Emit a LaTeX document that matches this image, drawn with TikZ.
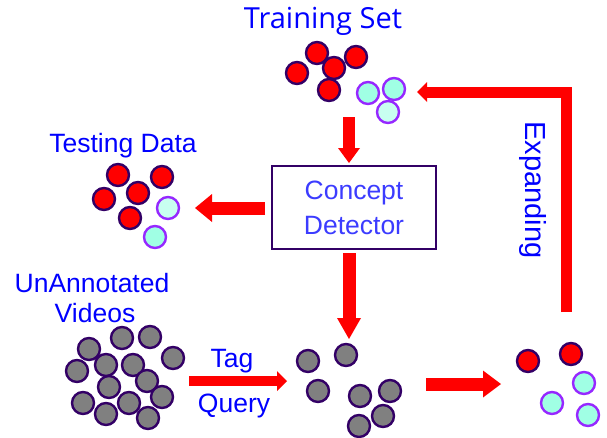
\documentclass[tikz,border=0pt]{standalone}
\usepackage{fontspec}
\setmainfont{Liberation Sans}
\newfontfamily\tsfont{Open Sans}
\usetikzlibrary{arrows.meta}
\definecolor{edge}{RGB}{51,0,102}
\definecolor{vio}{RGB}{150,40,255}
\definecolor{aquaA}{RGB}{160,255,228}
\definecolor{aquaB}{RGB}{200,255,240}
\definecolor{lblue}{RGB}{60,60,255}
\begin{document}
\begin{tikzpicture}[x=1pt,y=-1pt,
  ball/.style={circle,draw=edge,line width=2.4pt,minimum size=22pt,inner sep=0pt},
  redb/.style={ball,fill=red},
  grayb/.style={ball,fill=gray},
  cyanb/.style={ball,draw=vio,fill=aquaA},
  cyanl/.style={ball,draw=vio,fill=aquaB},
  lbl/.style={text=blue,font=\fontsize{26.5}{30}\selectfont,inner sep=0pt},
  bigarrow/.style n args={3}{draw=red,line width=#1,
     -{Triangle[length=#2,width=#3,line width=0pt]}}]
\useasboundingbox (0,0) rectangle (607,437);

% labels
\node[lbl,anchor=base,font=\tsfont\fontsize{29}{30}\selectfont] (lts) at (323,28) {Training Set};
\node[lbl,anchor=base] (ltd) at (123,152) {Testing Data};
\node[lbl,anchor=base] (luv1) at (92,292) {UnAnnotated};
\node[lbl,anchor=base] (luv2) at (95,322) {Videos};
\node[lbl,anchor=base] (ltag) at (232,367) {Tag};
\node[lbl,anchor=base] (lq) at (234,412) {Query};
\node[lbl,anchor=base,rotate=-90,font=\fontsize{29}{30}\selectfont] (lexp) at (525,190) {Expanding};

% detector
\node[draw=edge,line width=1.8pt,minimum width=164pt,minimum height=83pt,
  text=lblue,align=center,font=\fontsize{26.5}{35}\selectfont] (det) at (354,207.5) {Concept\\Detector};

% training set
\node[redb] (t1) at (317,53) {};
\node[redb] (t2) at (297,73) {};
\node[redb] (t3) at (356,57) {};
\node[redb] (t4) at (334,68) {};
\node[redb] (t5) at (329,90) {};
\node[cyanb] (t6) at (368,93) {};
\node[cyanb] (t7) at (394,89) {};
\node[cyanl] (t8) at (388,112) {};

% testing data
\node[redb] (d1) at (118,175) {};
\node[redb] (d2) at (162,177) {};
\node[redb] (d3) at (138,193) {};
\node[redb] (d4) at (104,199) {};
\node[redb] (d5) at (130,218) {};
\node[cyanl] (d6) at (168,208) {};
\node[cyanb] (d7) at (155,237) {};

% unannotated videos
\foreach \n/\x/\y in {u1/89/349,u2/122/338,u3/150/337,u4/173/358,u5/77/371,
  u6/106/365,u7/133/365,u8/147/381,u9/109/387,u10/83/403,u11/106/414,
  u12/129/403,u13/162/397,u14/148/418}
  \node[grayb] (\n) at (\x,\y) {};

% tagged set
\foreach \n/\x/\y in {m1/308/361,m2/346/355,m3/318/391,m4/360/396,
  m5/390/391,m6/383/416,m7/359/426}
  \node[grayb] (\n) at (\x,\y) {};

% expanded set
\node[redb] (e1) at (528,361) {};
\node[redb] (e2) at (571,354) {};
\node[cyanb] (e3) at (584,383) {};
\node[cyanb] (e4) at (552,403) {};
\node[cyanb] (e5) at (588,415) {};

% arrow end points
\coordinate (a1s) at (349,117);
\coordinate (a1e) at (349,163);
\coordinate (a2s) at (265,208);
\coordinate (a2e) at (195,208);
\coordinate (a3s) at (349,253);
\coordinate (a3e) at (349,339);
\coordinate (a4s) at (189,381);
\coordinate (a4e) at (287,381);
\coordinate (a5s) at (426,384);
\coordinate (a5e) at (501,384);
\coordinate (a6s) at (566,312);
\coordinate (a6e) at (417,92);

\draw[bigarrow={12pt}{15pt}{22pt}] (a1s) -- (a1e);
\draw[bigarrow={13pt}{17pt}{28pt}] (a2s) -- (a2e);
\draw[bigarrow={13pt}{21pt}{24pt}] (a3s) -- (a3e);
\draw[bigarrow={10pt}{10pt}{20pt}] (a4s) -- (a4e);
\draw[bigarrow={13pt}{18pt}{27pt}] (a5s) -- (a5e);
\draw[bigarrow={11pt}{10pt}{20pt},line join=miter] (a6s) |- (a6e);
\end{tikzpicture}
\end{document}
